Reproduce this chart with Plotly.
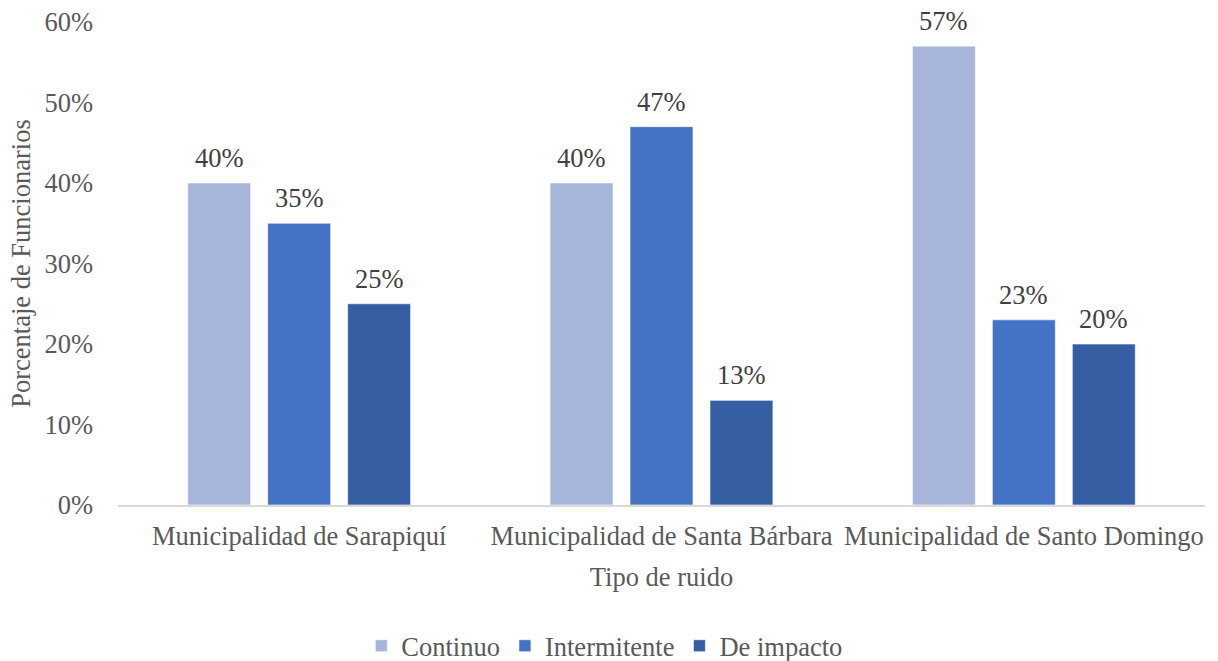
import plotly.graph_objects as go

categories = ["Municipalidad de Sarapiquí", "Municipalidad de Santa Bárbara", "Municipalidad de Santo Domingo"]
series_names = ["Continuo", "Intermitente", "De impacto"]
continuo = [0.40, 0.40, 0.57]
intermitente = [0.35, 0.47, 0.23]
de_impacto = [0.25, 0.13, 0.20]
y_ticks = [0, 0.1, 0.2, 0.3, 0.4, 0.5, 0.6]
y_tick_labels = ["0%", "10%", "20%", "30%", "40%", "50%", "60%"]

colors = ["#A7B5DA", "#4472C4", "#355EA3"]
font_family = "Liberation Serif, Times New Roman, serif"
fs = 26.5

fig = go.Figure()
all_values = [continuo, intermitente, de_impacto]
for name, vals, col in zip(series_names, all_values, colors):
    fig.add_trace(go.Bar(
        name=name, x=categories, y=vals,
        marker=dict(color=col, line=dict(color="rgba(255,255,255,0.6)", width=1)),
    ))

L, R, T, B = 118, 12.5, 22, 156
plot_w = 1218 - L - R
plot_h = 661 - T - B
cat_w = plot_w / 3
bargap = 0.338
slot = cat_w * (1 - bargap) / 3
for i, vals in enumerate(all_values):
    for c, v in zip(categories, vals):
        fig.add_annotation(
            x=c, y=v, xref="x", yref="y", text=f"{round(v*100)}%",
            showarrow=False, yanchor="bottom", yshift=8, xshift=(i - 1) * slot,
            font=dict(family=font_family, size=fs, color="#404040"),
        )

fig.update_layout(
    width=1218, height=661,
    margin=dict(l=L, r=R, t=T, b=B, autoexpand=False),
    paper_bgcolor="white", plot_bgcolor="white",
    barmode="group", bargap=bargap, bargroupgap=0.2125,
    font=dict(family=font_family, size=fs, color="#595959"),
    showlegend=True,
    legend=dict(orientation="h", x=(605 - L) / plot_w, xanchor="center",
                y=-141 / plot_h, yanchor="middle",
                font=dict(family=font_family, size=fs, color="#595959"),
                traceorder="normal", itemwidth=30),
)
fig.update_xaxes(
    automargin=False,
    showline=True, linecolor="#D9D9D9", linewidth=1.5, showgrid=False,
    ticks="", ticklabelstandoff=6, tickfont=dict(size=fs, color="#595959"),
    title=dict(text="Tipo de ruido", font=dict(size=fs, color="#595959"), standoff=18),
)
fig.update_yaxes(
    automargin=False,
    range=[0, 0.6], tickvals=y_ticks, ticktext=y_tick_labels,
    showgrid=False, zeroline=False, showline=False, ticks="",
    ticklabelstandoff=24,
    tickfont=dict(size=fs, color="#595959"),
    title=dict(text="Porcentaje de Funcionarios", font=dict(size=fs, color="#595959"), standoff=6),
)

fig.write_html("out.html", config={"displayModeBar": False},
               post_script="document.body.style.margin='0';")
